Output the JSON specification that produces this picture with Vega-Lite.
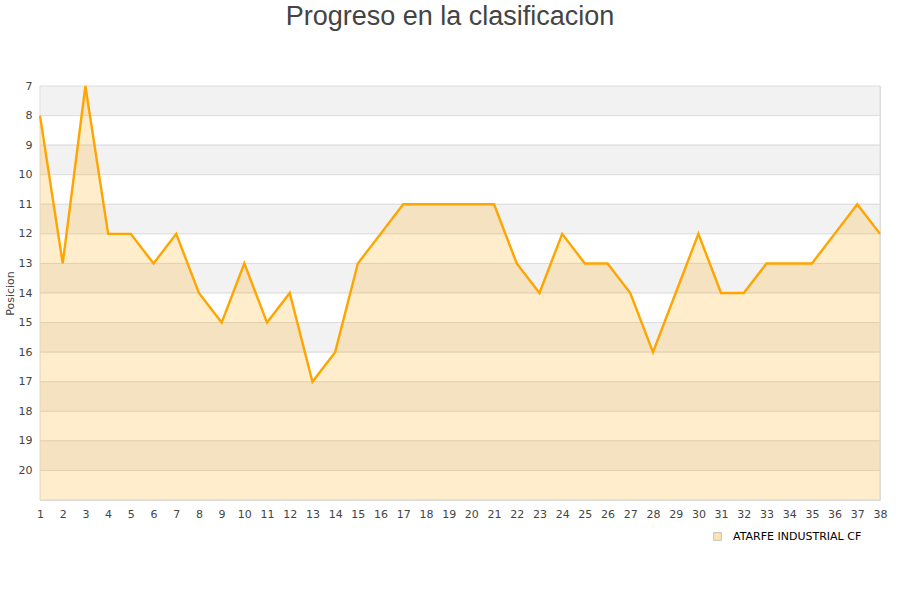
{
  "$schema": "https://vega.github.io/schema/vega-lite/v6.json",
  "autosize": "none",
  "width": 840,
  "height": 414,
  "padding": {"left": 40, "top": 86, "right": 20, "bottom": 100},
  "background": "white",
  "title": {
    "text": "Progreso en la clasificacion",
    "font": "Liberation Sans",
    "fontSize": 27,
    "fontWeight": "normal",
    "color": "#444444",
    "anchor": "middle",
    "frame": "group",
    "offset": 0,
    "dy": -49,
    "dx": -10
  },
  "config": {
    "view": {"stroke": "#dddddd", "strokeWidth": 1},
    "axis": {
      "labelFont": "DejaVu Sans",
      "labelFontSize": 11,
      "labelColor": "#444444",
      "titleFont": "DejaVu Sans",
      "titleFontSize": 11,
      "titleFontWeight": "normal",
      "titleColor": "#444444",
      "domainColor": "#dddddd",
      "ticks": false,
      "grid": false,
      "labelOverlap": false
    }
  },
  "datasets": {
    "bands": [
      {"y0": 7, "y1": 8, "c": "g"},
      {"y0": 8, "y1": 9, "c": "w"},
      {"y0": 9, "y1": 10, "c": "g"},
      {"y0": 10, "y1": 11, "c": "w"},
      {"y0": 11, "y1": 12, "c": "g"},
      {"y0": 12, "y1": 13, "c": "w"},
      {"y0": 13, "y1": 14, "c": "g"},
      {"y0": 14, "y1": 15, "c": "w"},
      {"y0": 15, "y1": 16, "c": "g"},
      {"y0": 16, "y1": 17, "c": "w"},
      {"y0": 17, "y1": 18, "c": "g"},
      {"y0": 18, "y1": 19, "c": "w"},
      {"y0": 19, "y1": 20, "c": "g"},
      {"y0": 20, "y1": 21, "c": "w"}
    ],
    "pos": [
      {"jornada": 1, "posicion": 8, "equipo": "ATARFE INDUSTRIAL CF"},
      {"jornada": 2, "posicion": 13, "equipo": "ATARFE INDUSTRIAL CF"},
      {"jornada": 3, "posicion": 7, "equipo": "ATARFE INDUSTRIAL CF"},
      {"jornada": 4, "posicion": 12, "equipo": "ATARFE INDUSTRIAL CF"},
      {"jornada": 5, "posicion": 12, "equipo": "ATARFE INDUSTRIAL CF"},
      {"jornada": 6, "posicion": 13, "equipo": "ATARFE INDUSTRIAL CF"},
      {"jornada": 7, "posicion": 12, "equipo": "ATARFE INDUSTRIAL CF"},
      {"jornada": 8, "posicion": 14, "equipo": "ATARFE INDUSTRIAL CF"},
      {"jornada": 9, "posicion": 15, "equipo": "ATARFE INDUSTRIAL CF"},
      {"jornada": 10, "posicion": 13, "equipo": "ATARFE INDUSTRIAL CF"},
      {"jornada": 11, "posicion": 15, "equipo": "ATARFE INDUSTRIAL CF"},
      {"jornada": 12, "posicion": 14, "equipo": "ATARFE INDUSTRIAL CF"},
      {"jornada": 13, "posicion": 17, "equipo": "ATARFE INDUSTRIAL CF"},
      {"jornada": 14, "posicion": 16, "equipo": "ATARFE INDUSTRIAL CF"},
      {"jornada": 15, "posicion": 13, "equipo": "ATARFE INDUSTRIAL CF"},
      {"jornada": 16, "posicion": 12, "equipo": "ATARFE INDUSTRIAL CF"},
      {"jornada": 17, "posicion": 11, "equipo": "ATARFE INDUSTRIAL CF"},
      {"jornada": 18, "posicion": 11, "equipo": "ATARFE INDUSTRIAL CF"},
      {"jornada": 19, "posicion": 11, "equipo": "ATARFE INDUSTRIAL CF"},
      {"jornada": 20, "posicion": 11, "equipo": "ATARFE INDUSTRIAL CF"},
      {"jornada": 21, "posicion": 11, "equipo": "ATARFE INDUSTRIAL CF"},
      {"jornada": 22, "posicion": 13, "equipo": "ATARFE INDUSTRIAL CF"},
      {"jornada": 23, "posicion": 14, "equipo": "ATARFE INDUSTRIAL CF"},
      {"jornada": 24, "posicion": 12, "equipo": "ATARFE INDUSTRIAL CF"},
      {"jornada": 25, "posicion": 13, "equipo": "ATARFE INDUSTRIAL CF"},
      {"jornada": 26, "posicion": 13, "equipo": "ATARFE INDUSTRIAL CF"},
      {"jornada": 27, "posicion": 14, "equipo": "ATARFE INDUSTRIAL CF"},
      {"jornada": 28, "posicion": 16, "equipo": "ATARFE INDUSTRIAL CF"},
      {"jornada": 29, "posicion": 14, "equipo": "ATARFE INDUSTRIAL CF"},
      {"jornada": 30, "posicion": 12, "equipo": "ATARFE INDUSTRIAL CF"},
      {"jornada": 31, "posicion": 14, "equipo": "ATARFE INDUSTRIAL CF"},
      {"jornada": 32, "posicion": 14, "equipo": "ATARFE INDUSTRIAL CF"},
      {"jornada": 33, "posicion": 13, "equipo": "ATARFE INDUSTRIAL CF"},
      {"jornada": 34, "posicion": 13, "equipo": "ATARFE INDUSTRIAL CF"},
      {"jornada": 35, "posicion": 13, "equipo": "ATARFE INDUSTRIAL CF"},
      {"jornada": 36, "posicion": 12, "equipo": "ATARFE INDUSTRIAL CF"},
      {"jornada": 37, "posicion": 11, "equipo": "ATARFE INDUSTRIAL CF"},
      {"jornada": 38, "posicion": 12, "equipo": "ATARFE INDUSTRIAL CF"}
    ]
  },
  "layer": [
    {
      "data": {"name": "bands"},
      "mark": {"type": "rect", "stroke": "#dddddd", "strokeWidth": 1},
      "encoding": {
        "x": {
          "datum": 1,
          "type": "quantitative",
          "scale": {"domain": [1, 38], "nice": false, "zero": false},
          "axis": {"values": [1,2,3,4,5,6,7,8,9,10,11,12,13,14,15,16,17,18,19,20,21,22,23,24,25,26,27,28,29,30,31,32,33,34,35,36,37,38], "title": null, "labelPadding": 8, "labelFlush": false, "labelOverlap": false}
        },
        "x2": {"datum": 38},
        "y": {
          "field": "y0",
          "type": "quantitative",
          "scale": {"domain": [7, 21], "reverse": true, "nice": false, "zero": false},
          "axis": {"values": [7,8,9,10,11,12,13,14,15,16,17,18,19,20], "title": "Posicion", "titlePadding": 3, "labelPadding": 8, "labelBaseline": "middle", "domain": false, "labelFlush": false, "labelOverlap": false}
        },
        "y2": {"field": "y1"},
        "fill": {
          "field": "c",
          "type": "nominal",
          "scale": {"domain": ["g", "w"], "range": ["#f2f2f2", "#ffffff"]},
          "legend": null
        }
      }
    },
    {
      "data": {"name": "pos"},
      "mark": {"type": "area", "fillOpacity": 0.2, "interpolate": "linear"},
      "encoding": {
        "x": {"field": "jornada", "type": "quantitative", "axis": {"values": [1,2,3,4,5,6,7,8,9,10,11,12,13,14,15,16,17,18,19,20,21,22,23,24,25,26,27,28,29,30,31,32,33,34,35,36,37,38], "title": null, "labelPadding": 8, "labelFlush": false, "labelOverlap": false}},
        "y": {"field": "posicion", "type": "quantitative", "axis": {"values": [7,8,9,10,11,12,13,14,15,16,17,18,19,20], "title": "Posicion", "titlePadding": 3, "labelPadding": 8, "labelBaseline": "middle", "domain": false, "labelFlush": false, "labelOverlap": false}},
        "y2": {"datum": 21},
        "color": {
          "field": "equipo",
          "type": "nominal",
          "scale": {"range": ["#ffa500"]},
          "legend": {
            "title": null,
            "orient": "none",
            "legendX": 672,
            "legendY": 445,
            "symbolType": "square",
            "symbolSize": 60,
            "symbolOpacity": 0.3,
            "symbolStrokeColor": "#333333",
            "symbolStrokeWidth": 1,
            "labelFont": "DejaVu Sans",
            "labelFontSize": 11,
            "labelColor": "#000000",
            "labelOffset": 10
          }
        }
      }
    },
    {
      "data": {"name": "pos"},
      "mark": {"type": "line", "color": "#ffa500", "strokeWidth": 2.4},
      "encoding": {
        "x": {"field": "jornada", "type": "quantitative", "axis": {"values": [1,2,3,4,5,6,7,8,9,10,11,12,13,14,15,16,17,18,19,20,21,22,23,24,25,26,27,28,29,30,31,32,33,34,35,36,37,38], "title": null, "labelPadding": 8, "labelFlush": false, "labelOverlap": false}},
        "y": {"field": "posicion", "type": "quantitative", "axis": {"values": [7,8,9,10,11,12,13,14,15,16,17,18,19,20], "title": "Posicion", "titlePadding": 3, "labelPadding": 8, "labelBaseline": "middle", "domain": false, "labelFlush": false, "labelOverlap": false}}
      }
    }
  ]
}
